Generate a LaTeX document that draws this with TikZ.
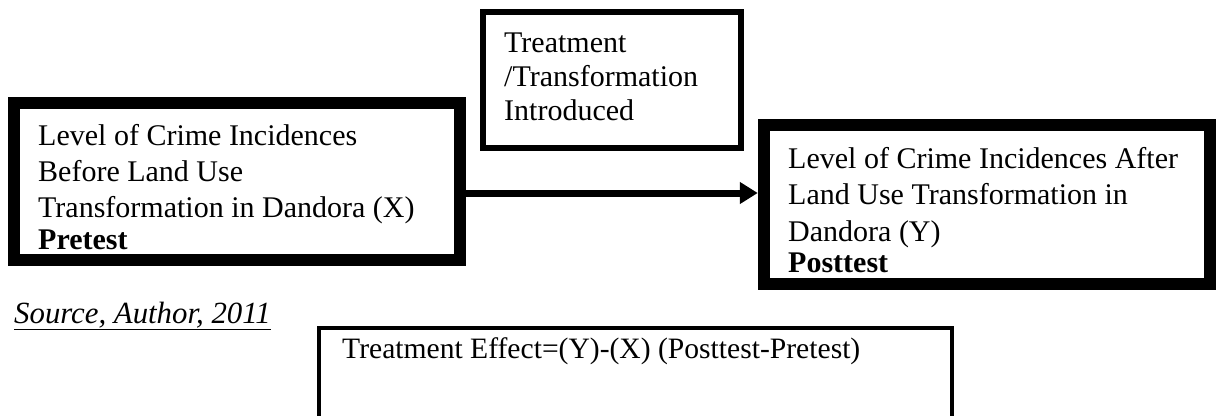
\documentclass[tikz,border=0pt]{standalone}
\usepackage{fontspec}
\setmainfont{Liberation Serif}
\usetikzlibrary{arrows.meta}
\tikzset{
  x=1pt, y=-1pt,
  thickbox/.style={draw=black, line width=12.5pt, minimum width=446pt, inner sep=0pt, fill=none},
  thinbox/.style={draw=black, line width=6pt, inner sep=0pt},
  effbox/.style={draw=black, line width=4pt, inner sep=0pt},
  boxtext/.style={anchor=base west, inner sep=0pt, font=\fontsize{30}{36}\selectfont},
  link/.style={line width=7pt, -{Triangle[length=18pt,width=21pt]}},
}
\begin{document}
\begin{tikzpicture}
\clip (0,0) rectangle (1217,415);
\useasboundingbox (0,0) rectangle (1217,415);
% texts
\node[boxtext] (Lt) at (38,145) {\begin{tabular}[t]{@{}l@{}}Level of Crime Incidences\\ Before Land Use\\ Transformation in Dandora (X)\\[-4pt] \textbf{Pretest}\end{tabular}};
\node[boxtext, font=\fontsize{30}{34}\selectfont] (Mt) at (504,52) {\begin{tabular}[t]{@{}l@{}}Treatment\\ /Transformation\\ Introduced\end{tabular}};
\node[boxtext, font=\fontsize{30}{36.5}\selectfont] (Rt) at (788,168) {\begin{tabular}[t]{@{}l@{}}Level of Crime Incidences After\\ Land Use Transformation in\\ Dandora (Y)\\[-5.5pt] \textbf{Posttest}\end{tabular}};
\node[boxtext, font=\fontsize{30.8}{36}\selectfont] (S) at (14,323) {\underline{\textit{Source, Author, 2011}}};
\node[boxtext, font=\fontsize{29.6}{36}\selectfont] (Et) at (342,358) {Treatment Effect=(Y)-(X) (Posttest-Pretest)};
% boxes
\node[thickbox, minimum height=157pt] (L) at (237,181.5) {};
\node[thinbox, minimum width=258pt, minimum height=136pt] (M) at (612,80) {};
\node[thickbox, minimum height=159pt] (R) at (987,204.5) {};
\node[effbox, minimum width=633pt, minimum height=140pt] (E) at (635.5,398) {};
% connector
\coordinate (ay) at (0,193);
\draw[link] (L.east |- ay) -- (R.west |- ay);
\end{tikzpicture}
\end{document}
